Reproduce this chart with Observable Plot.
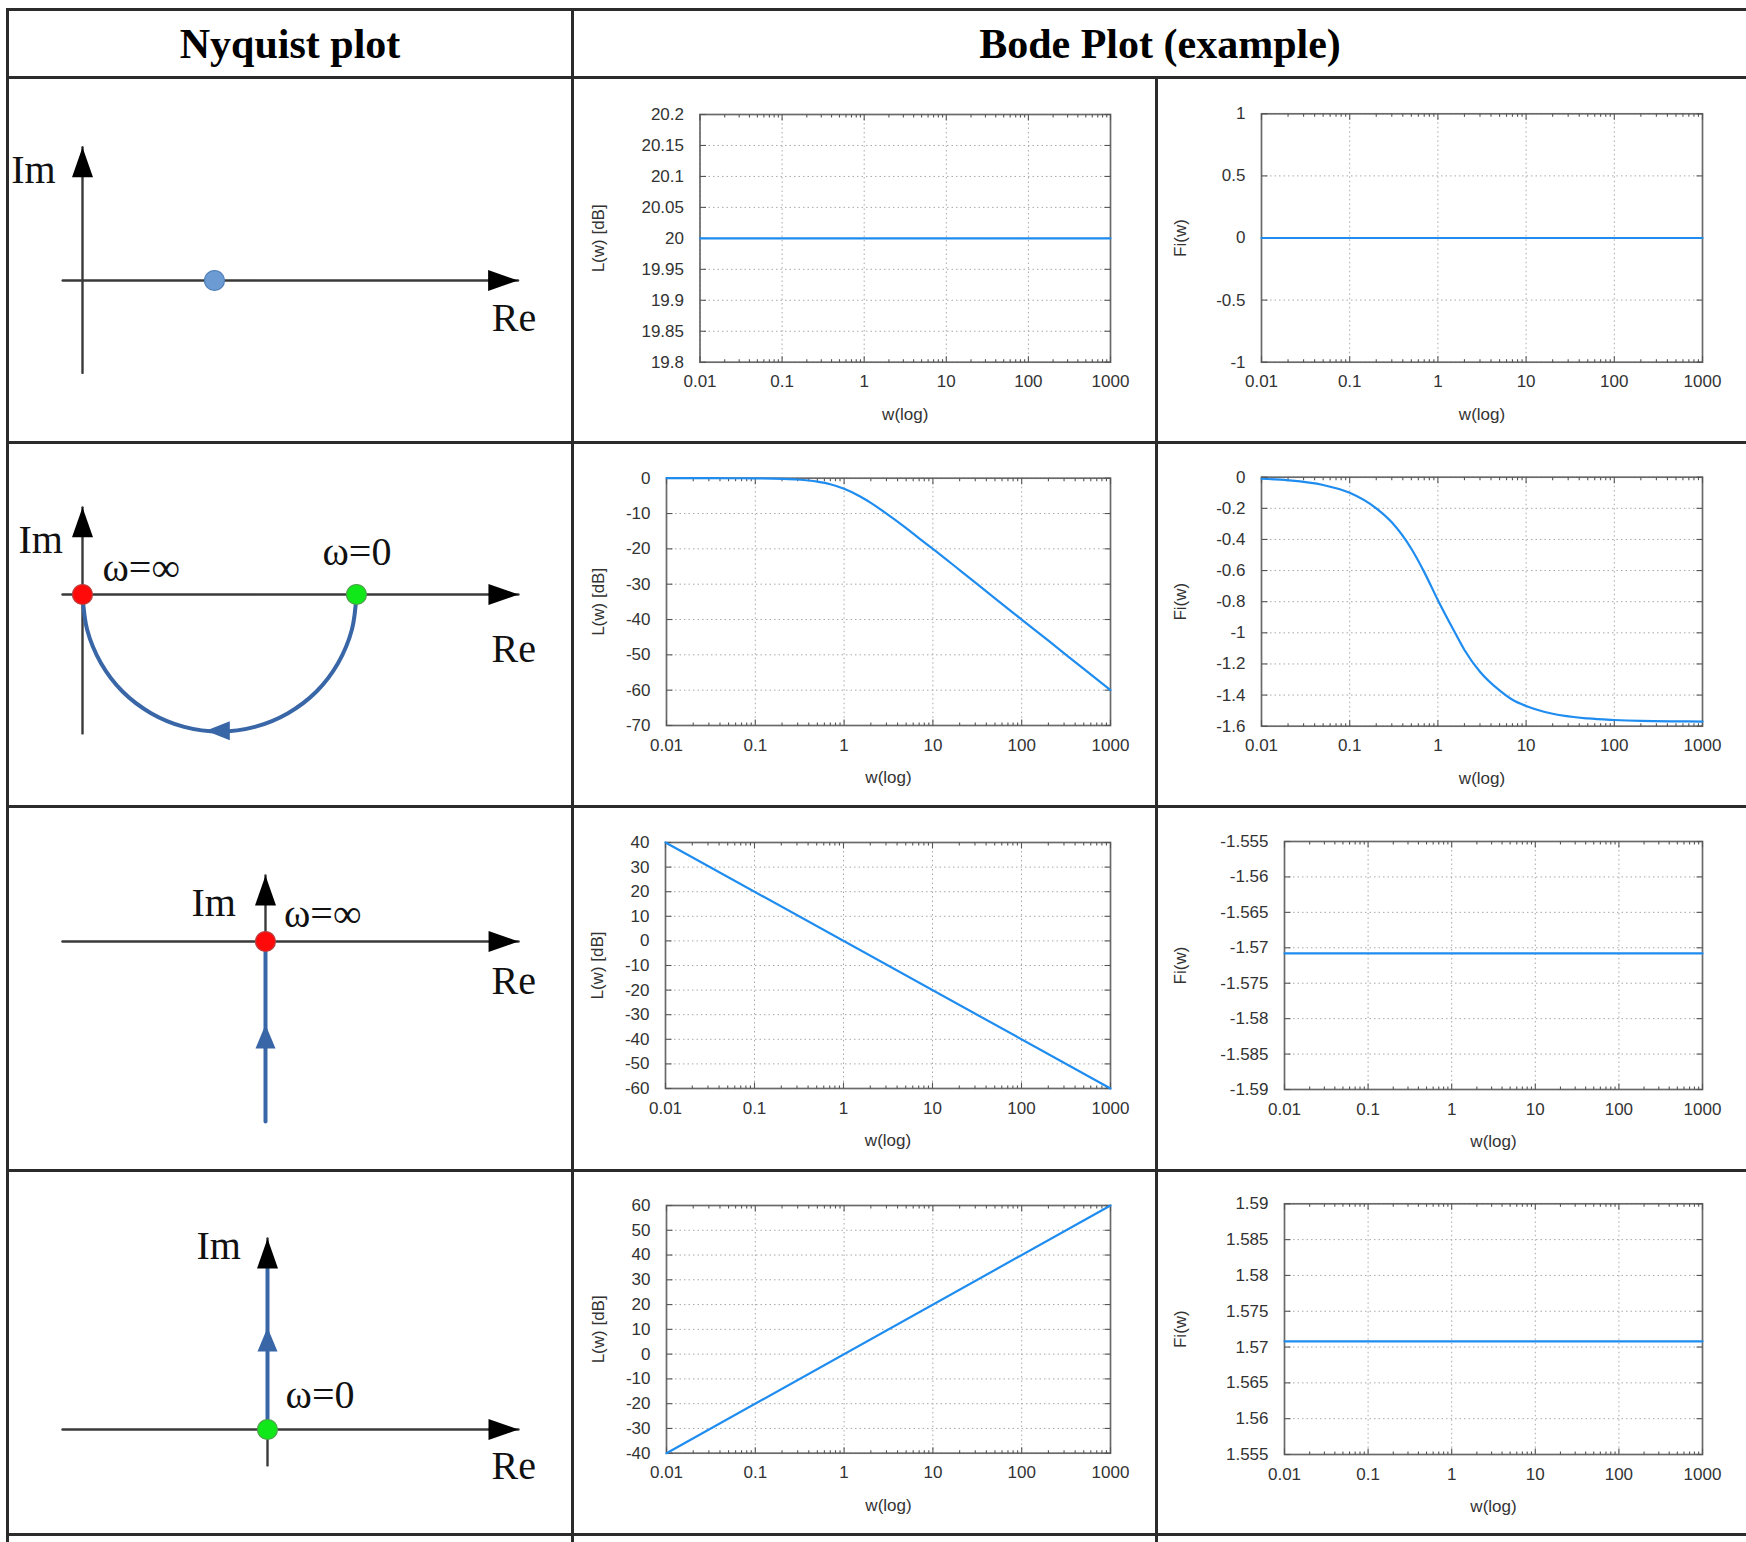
<!DOCTYPE html>
<html>
<head>
<meta charset="utf-8">
<script src="https://cdn.jsdelivr.net/npm/d3@7"></script>
<script src="https://cdn.jsdelivr.net/npm/@observablehq/plot@0.6"></script>
<style>
html, body { margin: 0; padding: 0; background: #fff; }
#page { position: relative; width: 1746px; height: 1542px; overflow: hidden; background: #fff; }
.ln { position: absolute; background: #2b2b2b; }
.head { position: absolute; display: flex; align-items: center; justify-content: center;
  font-family: "Liberation Serif", "Times New Roman", serif; font-weight: bold; font-size: 42px; color: #000; }
.cell { position: absolute; }
.cell svg { display: block; overflow: visible; }
</style>
</head>
<body>
<div id="page"></div>
<script>
// ---------------- DATA ----------------
// Column headers
const headers = ["Nyquist plot", "Bode Plot (example)"];

// Bode x axis (frequency, log)
const wTicks = [0.01, 0.1, 1, 10, 100, 1000];
const wMinor = [0.02, 0.03, 0.04, 0.05, 0.06, 0.07, 0.08, 0.09,
  0.2, 0.3, 0.4, 0.5, 0.6, 0.7, 0.8, 0.9,
  2, 3, 4, 5, 6, 7, 8, 9,
  20, 30, 40, 50, 60, 70, 80, 90,
  200, 300, 400, 500, 600, 700, 800, 900];

// Bode y ticks
const yTicksL1 = [19.8, 19.85, 19.9, 19.95, 20, 20.05, 20.1, 20.15, 20.2];
const yTicksF1 = [-1, -0.5, 0, 0.5, 1];
const yTicksL2 = [-70, -60, -50, -40, -30, -20, -10, 0];
const yTicksF2 = [-1.6, -1.4, -1.2, -1, -0.8, -0.6, -0.4, -0.2, 0];
const yTicksL3 = [-60, -50, -40, -30, -20, -10, 0, 10, 20, 30, 40];
const yTicksF3 = [-1.59, -1.585, -1.58, -1.575, -1.57, -1.565, -1.56, -1.555];
const yTicksL4 = [-40, -30, -20, -10, 0, 10, 20, 30, 40, 50, 60];
const yTicksF4 = [1.555, 1.56, 1.565, 1.57, 1.575, 1.58, 1.585, 1.59];

// Bode series
const wFlat = [0.01, 1000];
const magL1 = [20, 20];
const phaseF1 = [0, 0];
const wLag = [0.01, 0.02, 0.05, 0.1, 0.2, 0.3, 0.5, 0.7, 1, 1.5, 2, 3, 5, 7, 10, 20, 50, 100, 200, 500, 1000];
const magL2 = [0, 0, -0.01, -0.04, -0.17, -0.37, -0.97, -1.7, -3.0, -5.1, -7.0, -10.0, -14.1, -17.0, -20.0, -26.0, -34.0, -40.0, -46.0, -54.0, -60.0];
const phaseF2 = [-0.01, -0.02, -0.05, -0.10, -0.20, -0.29, -0.46, -0.61, -0.79, -0.98, -1.11, -1.25, -1.37, -1.43, -1.47, -1.52, -1.55, -1.56, -1.566, -1.569, -1.570];
const magL3 = [40, -60];
const phaseF3 = [-1.5708, -1.5708];
const magL4 = [-40, 60];
const phaseF4 = [1.5708, 1.5708];

// Nyquist sketches (Re, Im)
const reAxis1 = [{re: -0.15, im: 0}, {re: 3.30, im: 0}];
const imAxis1 = [{re: 0, im: -0.70}, {re: 0, im: 1.01}];
const gainPoint1 = [{re: 1, im: 0}];
const labels1 = [{re: -0.54, im: 0.74, t: "Im"}, {re: 3.10, im: -0.38, t: "Re"}];

const reAxis2 = [{re: -0.073, im: 0}, {re: 1.591, im: 0}];
const imAxis2 = [{re: 0, im: -0.507}, {re: 0, im: 0.318}];
const locus2 = [
  {re: 1.000, im: 0.000}, {re: 0.983, im: -0.129}, {re: 0.933, im: -0.250}, {re: 0.854, im: -0.354},
  {re: 0.750, im: -0.433}, {re: 0.629, im: -0.483}, {re: 0.500, im: -0.500}, {re: 0.371, im: -0.483},
  {re: 0.250, im: -0.433}, {re: 0.146, im: -0.354}, {re: 0.067, im: -0.250}, {re: 0.017, im: -0.129},
  {re: 0.000, im: 0.000}];
const locusArrow2 = [{re: 0.45, im: -0.497}];
const startPoint2 = [{re: 1, im: 0}];
const endPoint2 = [{re: 0, im: 0}];
const labels2 = [{re: -0.234, im: 0.150, t: "Im"}, {re: 0.073, im: 0.051, t: "ω=∞"},
  {re: 0.876, im: 0.106, t: "ω=0"}, {re: 1.493, im: -0.248, t: "Re"}];

const reAxis3 = [{re: -1.128, im: 0}, {re: 1.406, im: 0}];
const imAxis3 = [{re: 0, im: -1.0}, {re: 0, im: 0.367}];
const locus3 = [{re: 0, im: -1.0}, {re: 0, im: 0}];
const locusArrow3 = [{re: 0, im: -0.461}];
const endPoint3 = [{re: 0, im: 0}];
const labels3 = [{re: -0.411, im: 0.144, t: "Im"}, {re: 0.103, im: 0.078, t: "ω=∞"}, {re: 1.256, im: -0.289, t: "Re"}];

const reAxis4 = [{re: -1.079, im: 0}, {re: 1.321, im: 0}];
const imAxis4 = [{re: 0, im: -0.189}, {re: 0, im: 1.005}];
const locus4 = [{re: 0, im: 0}, {re: 0, im: 0.90}];
const locusArrow4 = [{re: 0, im: 0.537}];
const startPoint4 = [{re: 0, im: 0}];
const labels4 = [{re: -0.374, im: 0.90, t: "Im"}, {re: 0.095, im: 0.111, t: "ω=0"}, {re: 1.179, im: -0.258, t: "Re"}];

// ---------------- LAYOUT ----------------
const page = document.getElementById("page");
const ROW_TOPS = [78, 442, 806, 1170];
const CELL_H = 364;
const COL_X = [8, 572, 1156];
const COL_W = [564, 584, 590];

function line(x, y, w, h) {
  const d = document.createElement("div");
  d.className = "ln";
  Object.assign(d.style, {left: x + "px", top: y + "px", width: w + "px", height: h + "px"});
  page.appendChild(d);
}
// horizontal rules
line(6, 8, 1746, 3);
line(6, 76, 1746, 3);
[441, 805, 1169, 1533].forEach(y => line(6, y, 1746, 3));
// vertical rules
line(6, 8, 3, 1542);
line(571, 8, 3, 1542);
line(1155, 77, 3, 1542);

function head(text, x, w) {
  const d = document.createElement("div");
  d.className = "head";
  d.textContent = text;
  Object.assign(d.style, {left: x + "px", top: "11px", width: w + "px", height: "65px"});
  page.appendChild(d);
}
head(headers[0], 8, 564);
head(headers[1], 572, 1176);

function place(svg, x, y) {
  const d = document.createElement("div");
  d.className = "cell";
  d.style.left = x + "px";
  d.style.top = y + "px";
  d.appendChild(svg);
  page.appendChild(d);
}

// ---------------- SYMBOLS ----------------
function arrowSym(dir, len, half) {
  return {draw(ctx) {
    if (dir === "up") { ctx.moveTo(0, 0); ctx.lineTo(half, len); ctx.lineTo(-half, len); }
    else if (dir === "right") { ctx.moveTo(0, 0); ctx.lineTo(-len, -half); ctx.lineTo(-len, half); }
    else { ctx.moveTo(0, 0); ctx.lineTo(len, -half); ctx.lineTo(len, half); }
    ctx.closePath();
  }};
}
function tickSym(dx, dy) {
  return {draw(ctx, size) {
    const l = Math.sqrt(size / Math.PI);
    ctx.moveTo(0, 0); ctx.lineTo(dx * l, dy * l);
  }};
}
const tUp = tickSym(0, -1), tDown = tickSym(0, 1), tRight = tickSym(1, 0), tLeft = tickSym(-1, 0);

// ---------------- BODE ----------------
function bode(col, row, w, v, yDomain, yTicks, yLabel, m, labelDx) {
  const data = w.map((x, i) => ({w: x, v: v[i]}));
  const [yLo, yHi] = yDomain;
  const tk = {fill: "none", stroke: "#555", strokeWidth: 1.1};
  const svg = Plot.plot({
    width: COL_W[col], height: CELL_H,
    marginLeft: m[0], marginTop: m[1], marginRight: m[2], marginBottom: m[3],
    style: {fontFamily: "'Liberation Sans', Arial, sans-serif", fontSize: "17px", color: "#333", background: "transparent", overflow: "visible"},
    x: {type: "log", domain: [0.01, 1000], ticks: wTicks, tickFormat: d => String(d), tickSize: 0, tickPadding: 13, label: null},
    y: {domain: yDomain, ticks: yTicks, tickFormat: d => String(d), tickSize: 0, tickPadding: 16, label: null},
    marks: [
      Plot.gridX(wTicks, {stroke: "#a8a8a8", strokeOpacity: 1, strokeWidth: 1, strokeDasharray: "1.5,3"}),
      Plot.gridY(yTicks, {stroke: "#a8a8a8", strokeOpacity: 1, strokeWidth: 1, strokeDasharray: "1.5,3"}),
      Plot.frame({stroke: "#6a6a6a", strokeWidth: 1.7}),
      Plot.dot(wTicks, {x: d => d, y: () => yLo, symbol: tUp, r: 6, ...tk}),
      Plot.dot(wTicks, {x: d => d, y: () => yHi, symbol: tDown, r: 6, ...tk}),
      Plot.dot(wMinor, {x: d => d, y: () => yLo, symbol: tUp, r: 3, ...tk}),
      Plot.dot(wMinor, {x: d => d, y: () => yHi, symbol: tDown, r: 3, ...tk}),
      Plot.dot(yTicks, {x: () => 0.01, y: d => d, symbol: tRight, r: 6, ...tk}),
      Plot.dot(yTicks, {x: () => 1000, y: d => d, symbol: tLeft, r: 6, ...tk}),
      Plot.line(data, {x: "w", y: "v", stroke: "#1f8cf0", strokeWidth: 2.2, curve: "monotone-x"}),
      Plot.text(["w(log)"], {frameAnchor: "bottom", dy: 52, textAnchor: "middle", lineAnchor: "middle", fontSize: 17, fill: "#333"}),
      Plot.text([yLabel], {frameAnchor: "left", dx: labelDx, rotate: -90, textAnchor: "middle", lineAnchor: "middle", fontSize: 17, fill: "#333"})
    ]
  });
  place(svg, COL_X[col], ROW_TOPS[row]);
}

bode(1, 0, wFlat, magL1, [19.8, 20.2], yTicksL1, "L(w) [dB]", [127.5, 36, 46, 80.3], -101.5);
bode(2, 0, wFlat, phaseF1, [-1, 1], yTicksF1, "Fi(w)", [105, 35.3, 44, 80.3], -81);
bode(1, 1, wLag, magL2, [-70, 0], yTicksL2, "L(w) [dB]", [94, 35.7, 46, 81], -68);
bode(2, 1, wLag, phaseF2, [-1.6, 0], yTicksF2, "Fi(w)", [105, 34.7, 44, 80.3], -81);
bode(1, 2, wFlat, magL3, [-60, 40], yTicksL3, "L(w) [dB]", [93, 36, 46, 82], -68);
bode(2, 2, wFlat, phaseF3, [-1.59, -1.555], yTicksF3, "Fi(w)", [128, 35, 44, 81], -104);
bode(1, 3, wFlat, magL4, [-40, 60], yTicksL4, "L(w) [dB]", [94, 35, 46, 81.3], -68);
bode(2, 3, wFlat, phaseF4, [1.555, 1.59], yTicksF4, "Fi(w)", [128, 33.3, 44, 80], -104);

// ---------------- NYQUIST ----------------
const AX = "#3a3a3a", LOCUS = "#3966a6";
const arrowUpBig = arrowSym("up", 30, 10.5), arrowRightBig = arrowSym("right", 30, 10.5);
const arrowUpSmall = arrowSym("up", 24, 10), arrowLeftSmall = arrowSym("left", 24, 9.5);
const RED = {fill: "#ff0a0a", stroke: "#b84040"}, GREEN = {fill: "#11e81a", stroke: "#4f9f4f"}, BLUE = {fill: "#6b9bd2", stroke: "#4f7fba"};

function nyquist(row, xDomain, yDomain, reAxis, imAxis, locus, locusArrow, arrowShape, points, labels) {
  const marks = [
    Plot.line(reAxis, {x: "re", y: "im", stroke: AX, strokeWidth: 2.4}),
    Plot.line(imAxis, {x: "re", y: "im", stroke: AX, strokeWidth: 2.4})
  ];
  if (locus) marks.push(Plot.line(locus, {x: "re", y: "im", stroke: LOCUS, strokeWidth: 4, curve: "catmull-rom"}));
  marks.push(Plot.dot([reAxis[1]], {x: "re", y: "im", symbol: arrowRightBig, fill: "#000", stroke: "none"}));
  marks.push(Plot.dot([imAxis[1]], {x: "re", y: "im", symbol: arrowUpBig, fill: "#000", stroke: "none"}));
  if (locusArrow) marks.push(Plot.dot(locusArrow, {x: "re", y: "im", symbol: arrowShape, fill: LOCUS, stroke: "none"}));
  for (const [pts, col] of points) marks.push(Plot.dot(pts, {x: "re", y: "im", r: 10, fill: col.fill, stroke: col.stroke, strokeWidth: 1.2}));
  marks.push(Plot.text(labels, {x: "re", y: "im", text: "t", textAnchor: "start", lineAnchor: "bottom",
    fontSize: 40, fontFamily: "'Liberation Serif', 'DejaVu Serif', serif", fill: "#111"}));
  const svg = Plot.plot({
    width: COL_W[0], height: CELL_H, margin: 0,
    style: {background: "transparent", overflow: "visible"},
    x: {domain: xDomain, axis: null},
    y: {domain: yDomain, axis: null},
    marks
  });
  place(svg, COL_X[0], ROW_TOPS[row]);
}

nyquist(0, [-0.5606, 3.7121], [-1.2273, 1.5303], reAxis1, imAxis1, null, null, null, [[gainPoint1, BLUE]], labels1);
nyquist(1, [-0.2701, 1.7883], [-0.7737, 0.5547], reAxis2, imAxis2, locus2, locusArrow2, arrowLeftSmall,
  [[endPoint2, RED], [startPoint2, GREEN]], labels2);
nyquist(2, [-1.4278, 1.7056], [-1.2722, 0.75], reAxis3, imAxis3, locus3, locusArrow3, arrowUpSmall, [[endPoint3, RED]], labels3);
nyquist(3, [-1.3632, 1.6053], [-0.5526, 1.3632], reAxis4, imAxis4, locus4, locusArrow4, arrowUpSmall, [[startPoint4, GREEN]], labels4);
</script>
</body>
</html>
